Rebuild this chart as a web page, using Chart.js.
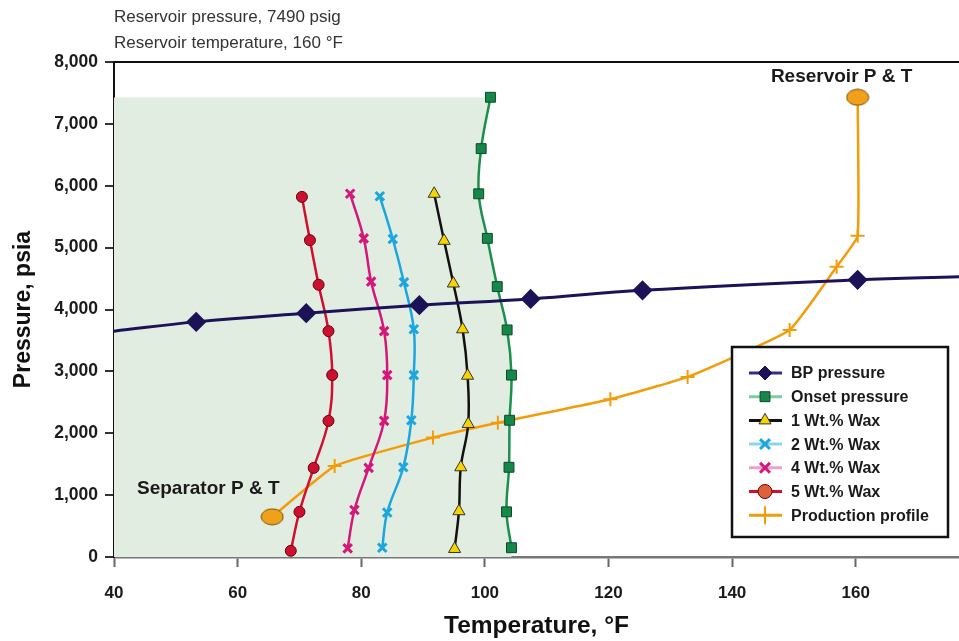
<!DOCTYPE html>
<html>
<head>
<meta charset="utf-8">
<script src="https://cdn.jsdelivr.net/npm/chart.js@4.4.0/dist/chart.umd.min.js"></script>
<style>
  html, body { margin: 0; padding: 0; background: #fff; overflow: hidden; }
</style>
</head>
<body>
<!-- 9 px extra: Chart.js reserva ese margen a la derecha por el tamaño de los marcadores -->
<canvas id="myChart" width="968" height="641"></canvas>
<script>
// Valores (temperatura °F / presión psia)
const bpTemp = [40, 53.3, 71.1, 89.4, 107.4, 125.5, 160.3, 176.7];
const bpPress = [3650, 3800, 3940, 4070, 4170, 4310, 4480, 4530];

const onsetTemp = [100.9, 99.4, 99.0, 100.4, 102.0, 103.6, 104.3, 104.0, 103.9, 103.5, 104.3];
const onsetPress = [7430, 6600, 5870, 5150, 4370, 3670, 2940, 2210, 1450, 730, 150];

const wax1Temp = [91.8, 93.4, 94.9, 96.4, 97.2, 97.3, 96.1, 95.8, 95.1];
const wax1Press = [5870, 5110, 4420, 3680, 2930, 2150, 1450, 740, 130];

const wax2Temp = [83.0, 85.1, 86.9, 88.5, 88.5, 88.1, 86.8, 84.2, 83.4];
const wax2Press = [5830, 5140, 4440, 3680, 2940, 2210, 1450, 720, 150];

const wax4Temp = [78.2, 80.4, 81.6, 83.7, 84.2, 83.7, 81.2, 78.9, 77.8];
const wax4Press = [5870, 5150, 4450, 3650, 2940, 2200, 1440, 760, 140];

const wax5Temp = [70.4, 71.7, 73.1, 74.7, 75.3, 74.7, 72.3, 70.0, 68.6];
const wax5Press = [5820, 5120, 4400, 3650, 2940, 2200, 1440, 730, 100];

const prodTemp = [65.6, 75.7, 91.6, 102.1, 120.3, 132.8, 149.3, 156.9, 160.3, 160.3];
const prodPress = [650, 1470, 1930, 2170, 2550, 2910, 3670, 4690, 5190, 7430];

const xTicks = [40, 60, 80, 100, 120, 140, 160];
const yTicks = [0, 1000, 2000, 3000, 4000, 5000, 6000, 7000, 8000];

const FONT = '"Liberation Sans", Arial, Helvetica, sans-serif';
Chart.defaults.font.family = FONT;

const pts = (xs, ys) => xs.map((x, i) => ({x: x, y: ys[i]}));

// marcador elíptico para separador / yacimiento
const ellipse = document.createElement('canvas');
ellipse.width = 24; ellipse.height = 18;
(function () {
    const c = ellipse.getContext('2d');
    c.beginPath();
    c.ellipse(12, 9, 11, 8, 0, 0, Math.PI * 2);
    c.fillStyle = '#f0a01a';
    c.fill();
    c.lineWidth = 1;
    c.strokeStyle = '#7a5000';
    c.stroke();
})();

const lastProd = prodTemp.length - 1;

const data = {
    datasets: [
        {
            label: 'BP pressure',
            data: pts(bpTemp, bpPress),
            borderColor: '#1c1258',
            borderWidth: 3,
            pointStyle: 'rectRot',
            pointRadius: ctx => (ctx.dataIndex === 0 || ctx.dataIndex === bpTemp.length - 1) ? 0 : 8,
            pointBackgroundColor: '#1c1258',
            pointBorderColor: '#1c1258',
            legendLine: '#3a2a8a'
        },
        {
            label: 'Onset pressure',
            data: pts(onsetTemp, onsetPress),
            borderColor: '#1b8f4d',
            borderWidth: 2.5,
            pointStyle: 'rect',
            pointRadius: 7,
            pointBackgroundColor: '#16874a',
            pointBorderColor: '#0b4a26',
            pointBorderWidth: 1,
            legendLine: '#7ccf9c'
        },
        {
            label: '1 Wt.% Wax',
            data: pts(wax1Temp, wax1Press),
            borderColor: '#111111',
            borderWidth: 2.5,
            pointStyle: 'triangle',
            pointRadius: 7,
            pointBackgroundColor: '#f7d300',
            pointBorderColor: '#333',
            pointBorderWidth: 1
        },
        {
            label: '2 Wt.% Wax',
            data: pts(wax2Temp, wax2Press),
            borderColor: '#1ca6df',
            borderWidth: 2.5,
            pointStyle: 'crossRot',
            pointRadius: 6,
            pointBorderColor: '#1ca6df',
            pointBorderWidth: 3,
            legendLine: '#8fd3f2'
        },
        {
            label: '4 Wt.% Wax',
            data: pts(wax4Temp, wax4Press),
            borderColor: '#d4177a',
            borderWidth: 2.5,
            pointStyle: 'crossRot',
            pointRadius: 6,
            pointBorderColor: '#d4177a',
            pointBorderWidth: 3,
            legendLine: '#f0a0c8'
        },
        {
            label: '5 Wt.% Wax',
            data: pts(wax5Temp, wax5Press),
            borderColor: '#d0102c',
            borderWidth: 2.5,
            pointStyle: 'circle',
            pointRadius: 5.5,
            pointBackgroundColor: '#cc1030',
            pointBorderColor: '#6a0010',
            pointBorderWidth: 1,
            legendFill: '#e0603a'
        },
        {
            label: 'Production profile',
            data: pts(prodTemp, prodPress),
            borderColor: '#f39c0a',
            borderWidth: 2.5,
            tension: 0.12,
            pointStyle: ctx => (ctx.dataIndex === 0 || ctx.dataIndex === lastProd) ? ellipse : 'cross',
            pointRadius: 7,
            pointBorderColor: '#f39c0a',
            pointBorderWidth: 2,
            legendStyle: 'cross'
        },
        {
            // zona sombreada a la izquierda de la curva de onset
            data: pts(onsetTemp, onsetPress).concat([{x: onsetTemp[onsetTemp.length - 1], y: 0}]),
            indexAxis: 'y',
            borderWidth: 0,
            borderColor: 'rgba(0,0,0,0)',
            backgroundColor: '#e2ede2',
            fill: {value: 40},
            pointRadius: 0,
            order: 10
        }
    ]
};

// leyenda dibujada a mano (línea + marcador)
const legendBox = {
    id: 'legendBox',
    afterDatasetsDraw(chart) {
        const ctx = chart.ctx;
        const area = chart.chartArea;
        const items = chart.data.datasets.filter(d => d.label);
        const x0 = area.right - 227, y0 = area.top + 285;
        ctx.save();
        ctx.fillStyle = '#fff';
        ctx.fillRect(x0, y0, 216, 190);
        ctx.lineWidth = 2.5;
        ctx.strokeStyle = '#111';
        ctx.strokeRect(x0, y0, 216, 190);
        ctx.font = 'bold 16px ' + FONT;
        ctx.textBaseline = 'middle';
        items.forEach((d, i) => {
            const y = y0 + 26 + i * 23.7;
            ctx.lineWidth = 3;
            ctx.strokeStyle = d.legendLine || d.borderColor;
            ctx.beginPath();
            ctx.moveTo(x0 + 17, y);
            ctx.lineTo(x0 + 50, y);
            ctx.stroke();
            ctx.fillStyle = d.legendFill || d.pointBackgroundColor || d.borderColor;
            ctx.strokeStyle = d.pointBorderColor || d.borderColor;
            ctx.lineWidth = d.pointBorderWidth || 1;
            Chart.helpers.drawPoint(ctx, {
                pointStyle: d.legendStyle || d.pointStyle,
                radius: d.legendStyle ? 9 : 7,
                borderWidth: d.pointBorderWidth || 1,
                rotation: 0
            }, x0 + 33, y);
            ctx.fillStyle = '#1a1a1a';
            ctx.fillText(d.label, x0 + 59, y + 1);
        });
        ctx.restore();
    }
};

// etiquetas de separador y yacimiento
const notes = {
    id: 'notes',
    afterDatasetsDraw(chart) {
        const ctx = chart.ctx;
        const xs = chart.scales.x, ys = chart.scales.y;
        ctx.save();
        ctx.font = 'bold 19px ' + FONT;
        ctx.fillStyle = '#1a1a1a';
        ctx.textAlign = 'center';
        ctx.textBaseline = 'middle';
        ctx.fillText('Reservoir P & T', xs.getPixelForValue(prodTemp[lastProd]) - 16, ys.getPixelForValue(prodPress[lastProd]) - 21);
        ctx.fillText('Separator P & T', xs.getPixelForValue(prodTemp[0]) - 64, ys.getPixelForValue(prodPress[0]) - 28);
        ctx.restore();
    }
};

const config = {
    type: 'scatter',
    data: data,
    plugins: [legendBox, notes],
    options: {
        responsive: false,
        animation: false,
        devicePixelRatio: 1,
        layout: { padding: 0 },
        datasets: { scatter: { showLine: true, tension: 0.4 } },
        plugins: {
            legend: { display: false },
            tooltip: { enabled: false },
            title: {
                display: true,
                fullSize: false,
                align: 'start',
                text: ['Reservoir pressure, 7490 psig', 'Reservoir temperature, 160 \u00B0F'],
                color: '#333',
                font: { size: 17, weight: 'normal', lineHeight: 1.5 },
                padding: { top: 5, bottom: 6 }
            }
        },
        scales: {
            x: {
                type: 'linear',
                min: 40,
                max: 176.7,
                afterFit: s => { s.height = 84; },
                afterBuildTicks: s => { s.ticks = xTicks.map(v => ({value: v})); },
                grid: { drawOnChartArea: false, tickLength: 10, tickColor: '#666', tickWidth: 2 },
                border: { color: '#777', width: 2.5 },
                ticks: { color: '#1a1a1a', padding: 16, font: { size: 17, weight: 'bold' } },
                title: {
                    display: true,
                    text: 'Temperature, \u00B0F',
                    color: '#111',
                    font: { size: 24.5, weight: 'bold' },
                    padding: { top: 0, bottom: 0 }
                }
            },
            y: {
                min: 0,
                max: 8000,
                afterFit: s => { s.width = 114; },
                afterBuildTicks: s => { s.ticks = yTicks.map(v => ({value: v})); },
                grid: {
                    color: c => (c.tick && c.tick.value === 8000) ? '#111' : 'rgba(0,0,0,0)',
                    lineWidth: 2,
                    tickLength: 9,
                    tickColor: '#333',
                    tickWidth: 2
                },
                border: { color: '#111', width: 2 },
                ticks: {
                    color: '#1a1a1a',
                    padding: 7,
                    font: { size: 17.5, weight: 'bold' },
                    callback: v => v.toLocaleString('en-US')
                },
                title: {
                    display: true,
                    text: 'Pressure, psia',
                    color: '#111',
                    font: { size: 23, weight: 'bold' },
                    padding: { top: 10, bottom: 0 }
                }
            }
        }
    }
};

const myChart = new Chart(document.getElementById('myChart'), config);
</script>
</body>
</html>
